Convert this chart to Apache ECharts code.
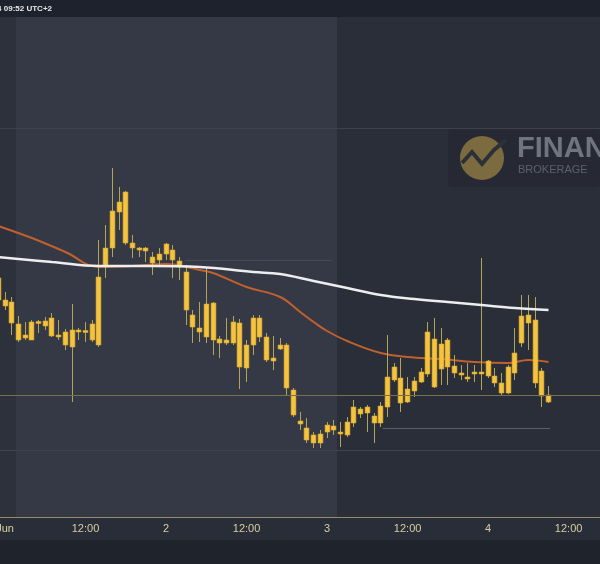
<!DOCTYPE html>
<html><head><meta charset="utf-8">
<script src="https://cdn.jsdelivr.net/npm/echarts@6/dist/echarts.min.js"></script>
<style>html,body{margin:0;padding:0;background:#1f232c}#c{width:600px;height:564px}</style>
</head><body><div id="c"></div>
<script>
// Hourly candles, hour offsets from 1 Jun 00:00 (UTC+2); first candle is 31 May 23:00
const startHour = -1;
// [open, close, low, high]
const ohlc = [
  [422,400,398,425],[400,394,390,408],[398,377,365,403],[376,360,358,384],[362,365,360,378],
  [360,378,360,380],[378,377,367,380],[379,374,370,383],[382,364,363,387],[365,363,360,380],
  [368,355,350,371],[353,370,298,396],[370,368,360,372],[368,369,358,378],[376,360,358,380],
  [355,423,353,460],[435,452,422,475],[452,489,443,532],[488,498,470,513],[508,457,455,509],
  [457,452,442,465],[452,450,443,453],[449,452,438,453],[443,437,425,448],[440,446,435,452],
  [446,456,440,457],[450,440,422,455],[439,433,420,443],[428,390,375,435],[385,373,357,390],
  [372,368,358,398],[363,396,357,432],[397,360,345,398],[361,357,342,364],[357,360,355,382],
  [357,378,355,384],[377,333,311,381],[332,355,318,360],[355,382,345,385],[382,363,358,385],
  [363,340,338,367],[339,342,330,364],[351,355,350,362],[355,312,305,357],[310,285,283,312],
  [279,276,270,288],[272,260,257,282],[265,257,252,268],[257,266,252,270],[268,275,262,278],
  [274,270,265,280],[268,266,253,278],[265,278,263,283],[277,293,273,300],[291,286,282,293],
  [287,293,268,295],[284,277,257,287],[277,294,273,298],[293,323,283,365],[320,333,318,337],
  [322,297,288,342],[298,311,297,323],[309,319,303,323],[318,328,317,332],[326,368,323,378],
  [361,313,312,382],[331,356,315,372],[360,333,315,362],[334,327,322,345],[327,325,320,335],
  [323,321,318,337],[326,328,318,335],[328,326,310,442],[339,324,322,340],[324,317,313,332],
  [317,307,305,327],[307,333,306,335],[327,347,320,372],[357,384,353,405],[385,377,350,405],
  [380,317,312,403],[329,304,293,332],[305,298,297,314]
];
// Moving averages (sparse readings, hours -> value)
const maSlowHours  = [-1,7,14,22,29,37,41,46,51,56,61,66,71,76,81];
const maSlowValues = [443,438,434,434,433,428,426,419,412,405,401,398,395,392,390];
const maFastHours  = [-1,4,9,14,19,24,29,31,36,41,44,46,48,51,56,60,65,70,75,78,81];
const maFastValues = [474,462,448,433,434,436,430,427,413,403,388,378,369,359,347,343,341,338,337,340,338];
// Horizontal levels drawn on the chart
const fullLevels = [572, 305, 250];
const fullLevelColors = ['#3d414c', '#77704f', '#3f434d'];
const partLevels = [[440, 26.8, 48.7], [375, -1, 48.9], [272, 56.3, 81.2]];
const partLevelColors = ['#474b56', '#50545e', '#5c5f68'];
// X tick labels
const tickHours = [0,12,24,36,48,60,72,84];
const tickLabels = ['Jun','12:00','2','12:00','3','12:00','4','12:00'];

const candleData = ohlc.map((d, i) => [startHour + i, d[0], d[1], d[2], d[3]]);
const maSlow = maSlowHours.map((h, i) => [h, maSlowValues[i]]);
const maFast = maFastHours.map((h, i) => [h, maFastValues[i]]);

function renderCandle(params, api) {
  const x = api.value(0);
  const pO = api.coord([x, api.value(1)]);
  const pC = api.coord([x, api.value(2)]);
  const pL = api.coord([x, api.value(3)]);
  const pH = api.coord([x, api.value(4)]);
  const w = 4.8;
  const cx = Math.round(pO[0] - 0.5) + 0.5;
  let top = Math.min(pO[1], pC[1]);
  let hh = Math.abs(pO[1] - pC[1]);
  if (hh < 2) { top -= (2 - hh) / 2; hh = 2; }
  return {
    type: 'group',
    children: [
      { type: 'line', shape: { x1: cx, y1: pH[1], x2: cx, y2: pL[1] },
        style: { stroke: '#b3a558', lineWidth: 1 } },
      { type: 'rect', shape: { x: cx - w / 2, y: top, width: w, height: hh },
        style: { fill: '#f4c340', stroke: '#dcaa2c', lineWidth: 0.6 } }
    ]
  };
}

const chart = echarts.init(document.getElementById('c'), null, { renderer: 'canvas' });
const markLineData = fullLevels.map((v, i) => ({ yAxis: v, lineStyle: { color: fullLevelColors[i], width: 1, type: 'solid' } }))
  .concat(partLevels.map((p, i) => [
    { coord: [p[1], p[0]], lineStyle: { color: partLevelColors[i], width: 1, type: 'solid' } },
    { coord: [p[2], p[0]] }
  ]));

chart.setOption({
  backgroundColor: '#1f232c',
  animation: false,
  grid: { left: 0, right: 0, top: 17, bottom: 47, show: false, containLabel: false, outerBoundsMode: 'none' },
  xAxis: {
    type: 'value', min: -0.7452, max: 88.674,
    axisLine: { show: true, lineStyle: { color: '#948c66', width: 1 } },
    axisTick: { show: false },
    splitLine: { show: false },
    axisLabel: {
      customValues: tickHours,
      formatter: v => tickLabels[tickHours.indexOf(v)],
      color: '#d6cea2', fontSize: 11, margin: 6,
      fontFamily: 'Liberation Sans, Arial, sans-serif'
    }
  },
  yAxis: { type: 'value', min: 183, max: 683, show: false, splitLine: { show: false } },
  graphic: [
    { type: 'rect', z: -10, shape: { x: 0, y: 0, width: 600, height: 17 }, style: { fill: '#1e222c' } },
    { type: 'rect', z: -10, shape: { x: 0, y: 17, width: 600, height: 500 }, style: { fill: '#2a2e39' } },
    { type: 'rect', z: -9, shape: { x: 0, y: 17, width: 16, height: 500 }, style: { fill: '#2d313c' } },
    { type: 'rect', z: -9, shape: { x: 16, y: 17, width: 321, height: 500 }, style: { fill: '#353945' } },
    { type: 'rect', z: -10, shape: { x: 0, y: 517, width: 600, height: 23 }, style: { fill: '#292d38' } },
    { type: 'rect', z: -8, shape: { x: 448, y: 129, width: 152, height: 58, r: 4 }, style: { fill: 'rgba(20,22,30,0.18)' } },
    { type: 'circle', z: -7, shape: { cx: 482, cy: 158, r: 22 }, style: { fill: '#7b6b3f' } },
    { type: 'polyline', z: -6, shape: { points: [[462, 163], [472, 152], [482, 164], [494, 150], [506, 140]] },
      style: { stroke: '#2c3039', lineWidth: 4, fill: null } },
    { type: 'text', z: -6, style: { text: 'FINANCE', x: 517, y: 149, fill: '#70747f',
      font: 'bold 29px "Liberation Sans", Arial, sans-serif', textVerticalAlign: 'middle' } },
    { type: 'text', z: -6, style: { text: 'BROKERAGE', x: 518, y: 170, fill: '#5d616c',
      font: '11px "Liberation Sans", Arial, sans-serif', textVerticalAlign: 'middle' } },
    { type: 'text', z: 5, style: { text: 'Jun 04, 2024 09:52 UTC+2', x: 52, y: 9, fill: '#e8e8e8',
      font: 'bold 8px "Liberation Sans", Arial, sans-serif', textAlign: 'right', textVerticalAlign: 'middle' } }
  ],
  series: [
    {
      type: 'line', data: maFast, smooth: 0.4, showSymbol: false, z: 3,
      lineStyle: { color: '#c0602e', width: 2 },
      markLine: { silent: true, symbol: ['none', 'none'], label: { show: false }, animation: false, data: markLineData }
    },
    {
      type: 'custom', renderItem: renderCandle, data: candleData, z: 4,
      encode: { x: 0, y: [1, 2, 3, 4] }
    },
    {
      type: 'line', data: maSlow, smooth: 0.4, showSymbol: false, z: 5,
      lineStyle: { color: '#eeeeee', width: 2.5 }
    }
  ]
});
</script></body></html>
